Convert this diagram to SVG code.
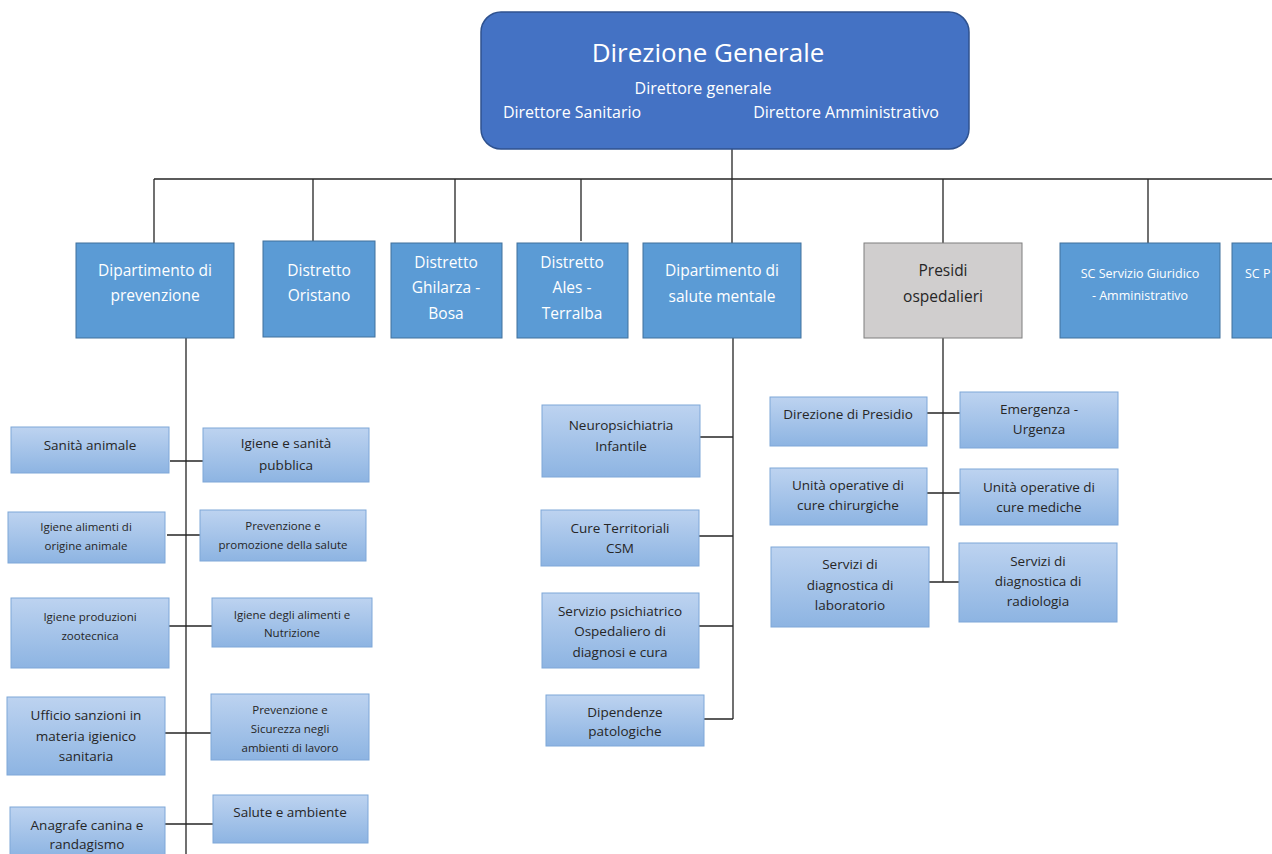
<svg xmlns="http://www.w3.org/2000/svg" width="1272" height="854" viewBox="0 0 1272 854">
<defs>
<linearGradient id="sub" x1="0" y1="0" x2="0" y2="1">
<stop offset="0" stop-color="#bdd3f0"/>
<stop offset="1" stop-color="#8db4e2"/>
</linearGradient>
<style>
text{font-family:"Open Sans","Noto Sans","Liberation Sans",sans-serif;text-anchor:middle}
.top{fill:#4472c4;stroke:#2f528f;stroke-width:1.5}
.l2{fill:#5b9bd5;stroke:#41719c;stroke-width:1}
.gray{fill:#d0cece;stroke:#7f7f7f;stroke-width:1}
.sub{fill:url(#sub);stroke:#7ea7d8;stroke-width:1}
.w{fill:#ffffff}
.d{fill:#262626}
.f16{font-size:15.5px}
.f14{font-size:13.5px}
.f13{font-size:12.5px}
.f12{font-size:11.5px}
.ln{stroke:#262626;stroke-width:1.3;fill:none}
</style>
</defs>
<rect width="1272" height="854" fill="#ffffff"/>

<g id="connectors">
<path class="ln" d="M732 149V338M154 179H1272M154 179V243M313 179V241M455 179V243M581 179V241M943 179V243M1148 179V243"/>
<path class="ln" d="M186 338V854M170 461H203M167 535H200M167 626H212M165 733H211M165 824H213"/>
<path class="ln" d="M733 338V719M700 437H733M699 536H733M699 626H733M704 719H733"/>
<path class="ln" d="M943 338V582M927 413H960M927 493H960M929 582H959"/>
</g>

<g id="direzione-generale">
<rect class="top" x="481" y="12" width="488" height="137" rx="20"/>
<text class="w" x="708" y="62" font-size="26">Direzione Generale</text>
<text class="w" x="703" y="94" font-size="16">Direttore generale</text>
<text class="w" x="572" y="118" font-size="16">Direttore Sanitario</text>
<text class="w" x="846" y="118" font-size="16">Direttore Amministrativo</text>
</g>

<g id="dip-prevenzione">
<rect class="l2" x="76" y="243" width="158" height="95"/>
<text class="w f16" x="155" y="276">Dipartimento di</text>
<text class="w f16" x="155" y="301">prevenzione</text>
</g>
<g id="distretto-oristano">
<rect class="l2" x="263" y="241" width="112" height="96"/>
<text class="w f16" x="319" y="276">Distretto</text>
<text class="w f16" x="319" y="301">Oristano</text>
</g>
<g id="distretto-ghilarza">
<rect class="l2" x="391" y="243" width="111" height="95"/>
<text class="w f16" x="446" y="268">Distretto</text>
<text class="w f16" x="446" y="293">Ghilarza -</text>
<text class="w f16" x="446" y="319">Bosa</text>
</g>
<g id="distretto-ales">
<rect class="l2" x="517" y="243" width="111" height="95"/>
<text class="w f16" x="572" y="268">Distretto</text>
<text class="w f16" x="572" y="293">Ales -</text>
<text class="w f16" x="572" y="319">Terralba</text>
</g>
<g id="dip-salute-mentale">
<rect class="l2" x="643" y="243" width="158" height="95"/>
<text class="w f16" x="722" y="276">Dipartimento di</text>
<text class="w f16" x="722" y="302">salute mentale</text>
</g>
<g id="presidi-ospedalieri">
<rect class="gray" x="864" y="243" width="158" height="95"/>
<text class="d f16" x="943" y="276">Presidi</text>
<text class="d f16" x="943" y="302">ospedalieri</text>
</g>
<g id="sc-giuridico">
<rect class="l2" x="1060" y="243" width="160" height="95"/>
<text class="w f13" x="1140" y="278">SC Servizio Giuridico</text>
<text class="w f13" x="1140" y="300">- Amministrativo</text>
</g>
<g id="sc-p">
<rect class="l2" x="1232" y="243" width="50" height="95"/>
<text class="w f13" x="1245" y="278" style="text-anchor:start">SC P</text>
</g>

<g id="sanita-animale">
<rect class="sub" x="11" y="427" width="158" height="46"/>
<text class="d f14" x="90" y="450">Sanità animale</text>
</g>
<g id="igiene-sanita-pubblica">
<rect class="sub" x="203" y="428" width="166" height="54"/>
<text class="d f14" x="286" y="448">Igiene e sanità</text>
<text class="d f14" x="286" y="470">pubblica</text>
</g>
<g id="igiene-alimenti-origine">
<rect class="sub" x="8" y="512" width="157" height="51"/>
<text class="d f12" x="86" y="531">Igiene alimenti di</text>
<text class="d f12" x="86" y="550">origine animale</text>
</g>
<g id="prevenzione-promozione">
<rect class="sub" x="200" y="510" width="166" height="51"/>
<text class="d f12" x="283" y="530">Prevenzione e</text>
<text class="d f12" x="283" y="549">promozione della salute</text>
</g>
<g id="igiene-produzioni">
<rect class="sub" x="11" y="598" width="158" height="70"/>
<text class="d f12" x="90" y="621">Igiene produzioni</text>
<text class="d f12" x="90" y="640">zootecnica</text>
</g>
<g id="igiene-alimenti-nutrizione">
<rect class="sub" x="212" y="598" width="160" height="49"/>
<text class="d f12" x="292" y="619">Igiene degli alimenti e</text>
<text class="d f12" x="292" y="637">Nutrizione</text>
</g>
<g id="ufficio-sanzioni">
<rect class="sub" x="7" y="697" width="158" height="78"/>
<text class="d f14" x="86" y="720">Ufficio sanzioni in</text>
<text class="d f14" x="86" y="741">materia igienico</text>
<text class="d f14" x="86" y="761">sanitaria</text>
</g>
<g id="prevenzione-sicurezza">
<rect class="sub" x="211" y="694" width="158" height="66"/>
<text class="d f12" x="290" y="714">Prevenzione e</text>
<text class="d f12" x="290" y="733">Sicurezza negli</text>
<text class="d f12" x="290" y="752">ambienti di lavoro</text>
</g>
<g id="anagrafe-canina">
<rect class="sub" x="10" y="807" width="155" height="50"/>
<text class="d f14" x="87" y="830">Anagrafe canina e</text>
<text class="d f14" x="87" y="849">randagismo</text>
</g>
<g id="salute-ambiente">
<rect class="sub" x="213" y="795" width="155" height="48"/>
<text class="d f14" x="290" y="817">Salute e ambiente</text>
</g>

<g id="neuropsichiatria">
<rect class="sub" x="542" y="405" width="158" height="72"/>
<text class="d f14" x="621" y="430">Neuropsichiatria</text>
<text class="d f14" x="621" y="451">Infantile</text>
</g>
<g id="cure-territoriali">
<rect class="sub" x="541" y="510" width="158" height="56"/>
<text class="d f14" x="620" y="533">Cure Territoriali</text>
<text class="d f14" x="620" y="553">CSM</text>
</g>
<g id="servizio-psichiatrico">
<rect class="sub" x="542" y="593" width="157" height="75"/>
<text class="d f14" x="620" y="616">Servizio psichiatrico</text>
<text class="d f14" x="620" y="636">Ospedaliero di</text>
<text class="d f14" x="620" y="657">diagnosi e cura</text>
</g>
<g id="dipendenze">
<rect class="sub" x="546" y="695" width="158" height="51"/>
<text class="d f14" x="625" y="717">Dipendenze</text>
<text class="d f14" x="625" y="736">patologiche</text>
</g>

<g id="direzione-presidio">
<rect class="sub" x="770" y="397" width="157" height="49"/>
<text class="d f14" x="848" y="419">Direzione di Presidio</text>
</g>
<g id="emergenza-urgenza">
<rect class="sub" x="960" y="392" width="158" height="56"/>
<text class="d f14" x="1039" y="414">Emergenza -</text>
<text class="d f14" x="1039" y="434">Urgenza</text>
</g>
<g id="uo-chirurgiche">
<rect class="sub" x="770" y="468" width="157" height="57"/>
<text class="d f14" x="848" y="490">Unità operative di</text>
<text class="d f14" x="848" y="510">cure chirurgiche</text>
</g>
<g id="uo-mediche">
<rect class="sub" x="960" y="469" width="158" height="56"/>
<text class="d f14" x="1039" y="492">Unità operative di</text>
<text class="d f14" x="1039" y="512">cure mediche</text>
</g>
<g id="servizi-laboratorio">
<rect class="sub" x="771" y="547" width="158" height="80"/>
<text class="d f14" x="850" y="569">Servizi di</text>
<text class="d f14" x="850" y="590">diagnostica di</text>
<text class="d f14" x="850" y="610">laboratorio</text>
</g>
<g id="servizi-radiologia">
<rect class="sub" x="959" y="543" width="158" height="79"/>
<text class="d f14" x="1038" y="566">Servizi di</text>
<text class="d f14" x="1038" y="586">diagnostica di</text>
<text class="d f14" x="1038" y="606">radiologia</text>
</g>
</svg>
